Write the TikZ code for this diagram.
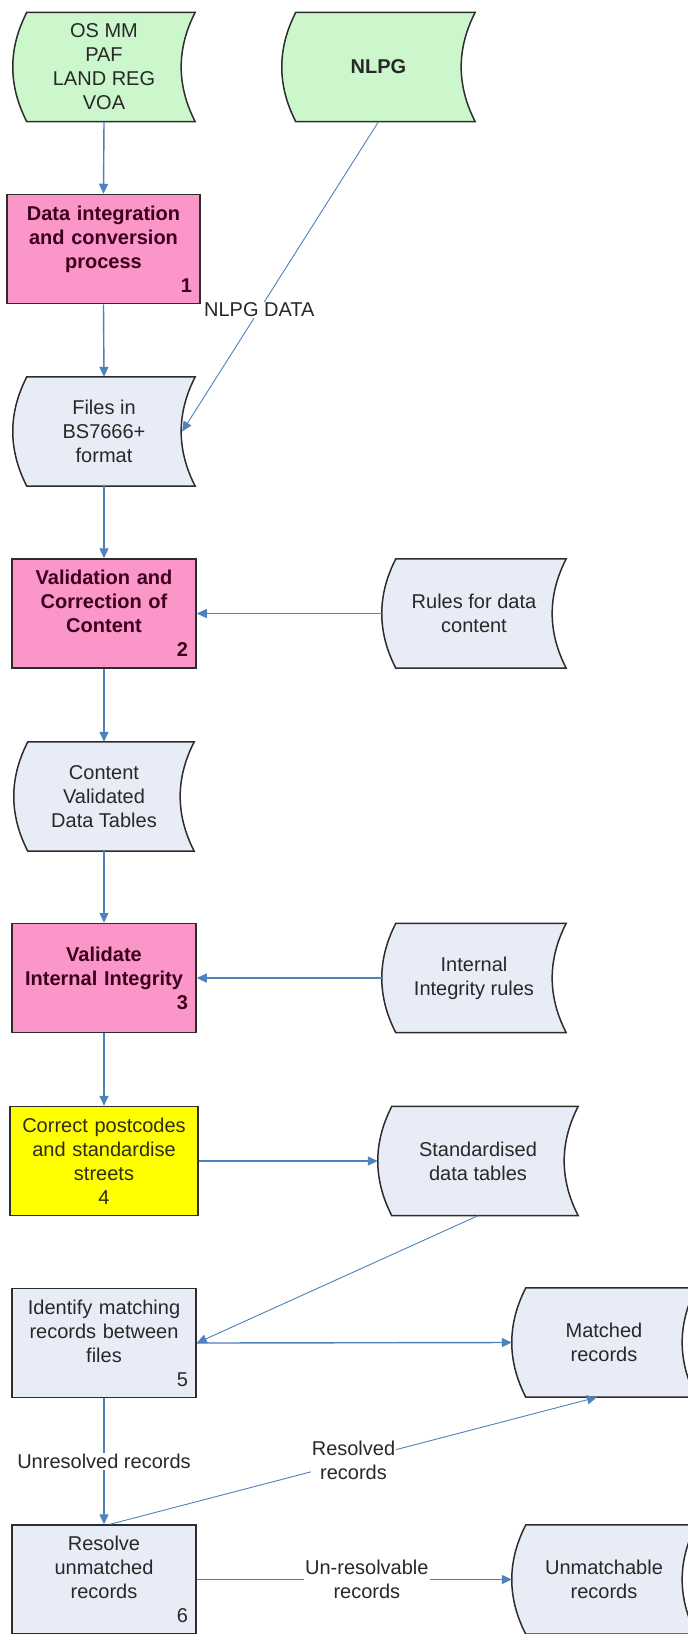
\documentclass[tikz,border=0pt]{standalone}
\usepackage{fontspec}
\setmainfont{Liberation Sans}
\usetikzlibrary{arrows.meta,calc}
\pgfdeclarelayer{background}
\pgfsetlayers{background,main}
\definecolor{greenfill}{RGB}{204,247,204}
\definecolor{bluefill}{RGB}{232,236,246}
\definecolor{pinkfill}{RGB}{250,150,200}
\definecolor{yellowfill}{RGB}{255,255,0}
\definecolor{edgec}{RGB}{45,45,45}
\definecolor{arrowc}{RGB}{79,129,189}
\definecolor{pinktext}{RGB}{60,0,30}
\definecolor{yellowtext}{RGB}{45,45,15}
\definecolor{labeltext}{RGB}{40,40,40}
\newcommand{\diafont}{\fontsize{20}{24}\selectfont}
\newcommand{\drawdatashape}[2]{%
  \filldraw[shapeedge, fill=#2]
    ($(#1.north west)+(14,0)$) -- (#1.north east)
    .. controls ($(#1.north east)!0.333!(#1.south east)+(-18.7,0)$)
          and ($(#1.north east)!0.667!(#1.south east)+(-18.7,0)$) .. (#1.south east)
    -- ($(#1.south west)+(14,0)$)
    .. controls ($(#1.south west)!0.333!(#1.north west)+(-4.7,0)$)
          and ($(#1.south west)!0.667!(#1.north west)+(-4.7,0)$) .. cycle;}
\tikzset{
  every node/.style={font=\diafont, text=labeltext},
  procbox/.style={draw=edgec, line width=1.5pt, minimum height=109pt, inner xsep=8pt, inner ysep=0pt, align=center, text width=168pt},
  pinkbox/.style={procbox, fill=pinkfill, font=\diafont\bfseries, text=pinktext},
  bluebox/.style={procbox, fill=bluefill},
  datanode/.style={minimum height=109pt, minimum width=184pt, inner sep=0pt, align=center},
  shapeedge/.style={draw=edgec, line width=1.5pt},
  arr/.style={draw=arrowc, line width=1.4pt, -{Triangle[length=10pt,width=9pt]}},
  thinarr/.style={arr, line width=0.9pt},
  lbl/.style={fill=white, inner sep=1pt, align=center}
}
\begin{document}
\begin{tikzpicture}[x=1pt,y=-1pt]
\useasboundingbox (0,0) rectangle (688,1634);
% nodes
\node[datanode, minimum width=182pt] (osmm) at (104,67) {OS MM\\PAF\\LAND REG\\VOA};
\node[datanode, minimum width=193pt, font=\diafont\bfseries] (nlpg) at (378.5,67) {NLPG};
\node[pinkbox, text width=177pt] (p1) at (103.5,249) {Data integration\\and conversion\\process\\\hspace*{\fill}1};
\node[datanode, minimum width=182pt] (files) at (104,431.5) {Files in\\BS7666+\\format};
\node[pinkbox] (p2) at (104,613.5) {Validation and\\Correction of\\Content\\\hspace*{\fill}2};
\node[datanode] (rules) at (474,613.5) {Rules for data\\content};
\node[datanode, minimum width=180pt] (content) at (104,796.5) {Content\\Validated\\Data Tables};
\node[pinkbox] (p3) at (104,978) {Validate\\Internal Integrity\\\hspace*{\fill}3};
\node[datanode] (internal) at (474,978) {Internal\\Integrity rules};
\node[procbox, text width=172pt, fill=yellowfill, text=yellowtext] (p4) at (104,1161) {Correct postcodes\\and standardise\\streets\\4};
\node[datanode, minimum width=200pt] (std) at (478,1161) {Standardised\\data tables};
\node[bluebox] (p5) at (104,1343) {Identify matching\\records between\\files\\\hspace*{\fill}5};
\node[datanode] (matched) at (604,1342.5) {Matched\\records};
\node[bluebox] (p6) at (104,1579.5) {Resolve\\unmatched\\records\\\hspace*{\fill}6};
\node[datanode] (unmatch) at (604,1579.5) {Unmatchable\\records};
% data shapes behind their text
\begin{pgfonlayer}{background}
\fill[white] (0,0) rectangle (688,1634);
\drawdatashape{osmm}{greenfill}
\drawdatashape{nlpg}{greenfill}
\drawdatashape{files}{bluefill}
\drawdatashape{rules}{bluefill}
\drawdatashape{content}{bluefill}
\drawdatashape{internal}{bluefill}
\drawdatashape{std}{bluefill}
\drawdatashape{matched}{bluefill}
\drawdatashape{unmatch}{bluefill}
\end{pgfonlayer}
% connectors
\draw[arr] (osmm.south) -- (p1.north);
\draw[thinarr] (nlpg.south) -- node[lbl, pos=0.607] (nlpglbl) {NLPG DATA} ($(files.east)+(-13,0)$);
\draw[arr] (p1.south) -- (files.north);
\draw[arr] (files.south) -- (p2.north);
\draw[arr] (rules.west) -- (p2.east);
\draw[arr] (p2.south) -- (content.north);
\draw[arr] (content.south) -- (p3.north);
\draw[arr] (internal.west) -- (p3.east);
\draw[arr] (p3.south) -- (p4.north);
\draw[arr] (p4.east) -- (std.west);
\draw[thinarr] (std.south) -- (p5.east);
\draw[arr] (p5.east) -- (matched.west);
\draw[arr] (p5.south) -- node[lbl] (unreslbl) {Unresolved records} (p6.north);
\draw[thinarr] ($(p6.north)+(6,0)$) -- node[lbl] (reslbl) {Resolved\\records} ($(matched.south)+(-7,0)$);
\draw[arr] (p6.east) -- node[lbl, pos=0.54] (unresolvlbl) {Un-resolvable\\records} (unmatch.west);
\end{tikzpicture}
\end{document}
